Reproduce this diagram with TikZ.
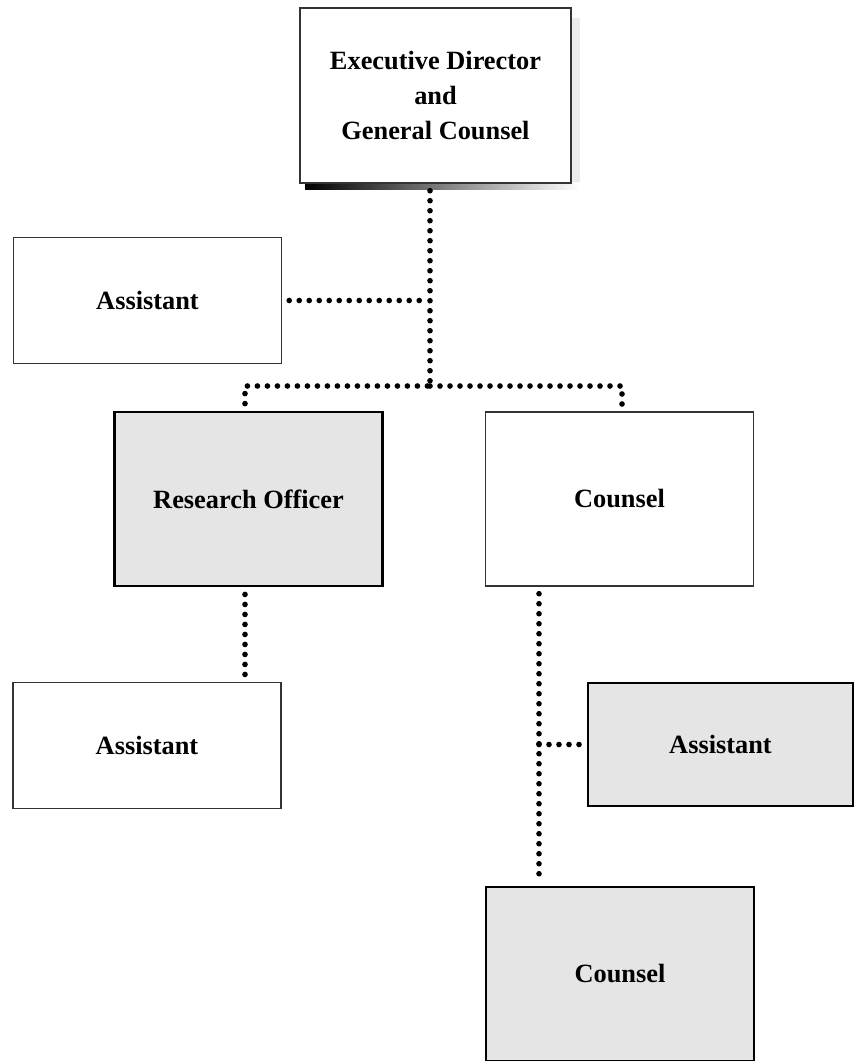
\documentclass[tikz,border=0pt]{standalone}
\usepackage{fontspec}
\setmainfont{Liberation Serif}
\usetikzlibrary{calc}

\begin{document}
\begin{tikzpicture}[
    box/.style={draw=black!80,line width=0.8pt,fill=white,minimum width=5.36cm,minimum height=3.48cm,
      align=center,font=\fontsize{15}{20}\selectfont\bfseries},
    shortbox/.style={box,minimum height=2.52cm},
    grey/.style={fill=black!10,draw=black,line width=1.6pt},
    link/.style={line width=3.2pt,line cap=round,dash pattern=on 0pt off 0.2cm,shorten <=4pt,shorten >=4pt}
  ]
      \useasboundingbox (0,0) rectangle (17.06,-21.22);
      \fill[black!8] (11.42,-0.36) rectangle (11.6,-3.8);
      \shade[left color=black,right color=white] (6.1,-3.66) rectangle (11.6,-3.8);
      \node[box,minimum width=5.42cm,minimum height=3.5cm] (top) at (8.71,-1.91) {Executive Director\\and\\General Counsel};
      \node[shortbox] (asst1) at (2.95,-6.01) {Assistant};
      \node[box,grey] (ro) at (4.97,-9.98) {Research Officer};
      \node[box] (co1) at (12.39,-9.98) {Counsel};
      \node[shortbox] (asst2) at (2.94,-14.91) {Assistant};
      \node[shortbox,grey,minimum width=5.3cm,minimum height=2.46cm] (asst3) at (14.41,-14.89) {Assistant};
      \node[box,grey] (co2) at (12.4,-19.48) {Counsel};
      \coordinate (bus) at (8.6,-7.72);
      \coordinate (spine) at (10.78,-14.89);

      \draw[link,shorten >=0pt] (top.south -| bus) -- (bus);
      \draw[link] (asst1.east) -- (asst1.east -| bus);
      \draw[link,shorten >=0pt] (ro.north -| 4.9,0) |- (bus);
      \draw[link,shorten <=0pt] (bus) -| (co1.north -| 12.44,0);
      \draw[link] (ro.south -| 4.9,0) -- (asst2.north -| 4.9,0);
      \draw[link] (co1.south -| spine) -- (co2.north -| spine);
      \draw[link,shorten <=0pt] (spine) -- (asst3.west);
    \end{tikzpicture}
\end{document}
